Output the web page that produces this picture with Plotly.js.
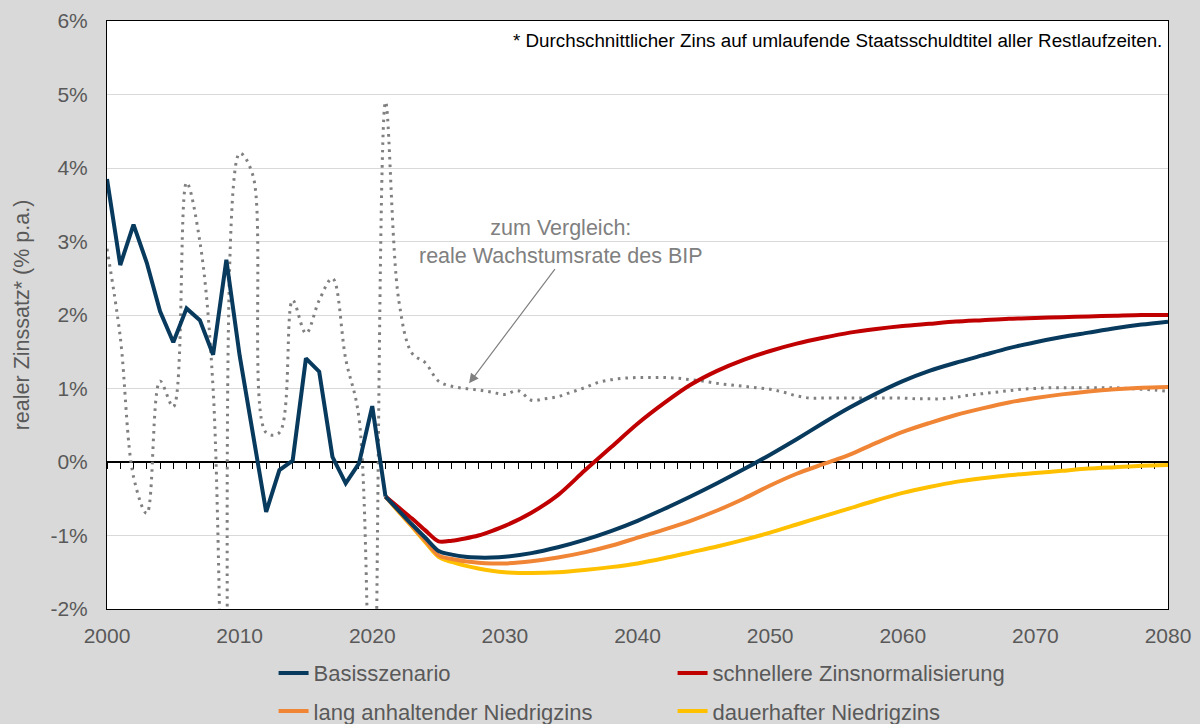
<!DOCTYPE html>
<html>
<head>
<meta charset="utf-8">
<script src="https://cdn.plot.ly/plotly-3.0.1.min.js"></script>
<style>html,body{margin:0;padding:0;background:#d9d9d9;}</style>
</head>
<body>
<div id="chart" style="width:1200px;height:724px;"></div>
<script>
// historical average real interest rate (%)
const histYears = [2000,2001,2002,2003,2004,2005,2006,2007,2008,2009,2010,2011,2012,2013,2014,2015,2016,2017,2018,2019,2020,2021];
const histRate  = [3.85,2.68,3.23,2.71,2.05,1.63,2.09,1.93,1.46,2.75,1.45,0.38,-0.68,-0.11,0.02,1.41,1.23,0.07,-0.29,-0.02,0.76,-0.47];

// projection scenarios (%)
const projYears = [2021,2022,2023,2024,2025,2026,2027,2028,2029,2030,2032,2034,2036,2038,2040,2042,2044,2046,2048,2050,2052,2054,2056,2058,2060,2062,2064,2066,2068,2070,2072,2074,2076,2078,2080];
const basis    = [-0.47,-0.66,-0.85,-1.03,-1.21,-1.26,-1.29,-1.30,-1.30,-1.29,-1.24,-1.16,-1.06,-0.94,-0.80,-0.64,-0.47,-0.29,-0.10,0.10,0.31,0.53,0.74,0.93,1.10,1.24,1.35,1.45,1.55,1.63,1.70,1.76,1.82,1.87,1.91];
const fast     = [-0.47,-0.62,-0.77,-0.93,-1.08,-1.07,-1.04,-1.00,-0.94,-0.87,-0.69,-0.45,-0.12,0.20,0.52,0.80,1.05,1.24,1.39,1.51,1.61,1.69,1.76,1.81,1.85,1.88,1.91,1.93,1.95,1.96,1.97,1.98,1.99,2.00,2.00];
const longLow  = [-0.47,-0.67,-0.87,-1.07,-1.27,-1.32,-1.35,-1.37,-1.38,-1.38,-1.35,-1.30,-1.23,-1.14,-1.03,-0.92,-0.80,-0.66,-0.50,-0.32,-0.16,-0.03,0.10,0.26,0.41,0.53,0.64,0.73,0.81,0.87,0.92,0.96,0.99,1.01,1.02];
const permLow  = [-0.47,-0.68,-0.88,-1.09,-1.29,-1.36,-1.41,-1.45,-1.48,-1.50,-1.51,-1.50,-1.47,-1.43,-1.38,-1.31,-1.23,-1.15,-1.06,-0.96,-0.85,-0.74,-0.63,-0.52,-0.42,-0.34,-0.27,-0.22,-0.18,-0.15,-0.12,-0.09,-0.07,-0.05,-0.04];

// real GDP growth (%)
const gdpYears = [2000,2001,2002,2003,2004,2005,2006,2007,2008,2009,2010,2011,2012,2013,2014,2015,2016,2017,2018,2019,
  2020,2021,2022,2023,2024,2025,2026,2027,2028,2029,2030,2031,2032,2033,2034,2035,2036,2037,2038,2039,
  2040,2041,2042,2043,2044,2045,2046,2047,2048,2049,2050,2051,2052,2053,2054,2055,2056,2057,2058,2059,
  2060,2061,2062,2063,2064,2065,2066,2067,2068,2069,2070,2071,2072,2073,2074,2075,2076,2077,2078,2079,2080];
const gdpGrowth = [2.9,1.7,-0.2,-0.7,1.1,0.75,3.8,3.0,1.0,-5.7,4.2,3.9,0.4,0.4,2.2,1.75,2.2,2.5,1.4,0.6,
  -4.9,4.9,2.2,1.48,1.35,1.1,1.03,1.0,0.98,0.95,0.92,0.97,0.84,0.86,0.89,0.95,1.01,1.08,1.12,1.14,
  1.15,1.15,1.15,1.14,1.12,1.10,1.07,1.05,1.03,1.01,0.99,0.95,0.90,0.87,0.87,0.87,0.87,0.87,0.87,0.87,
  0.87,0.86,0.86,0.86,0.88,0.91,0.93,0.95,0.97,0.99,1.0,1.01,1.01,1.01,1.01,1.01,1.01,1.0,0.99,0.98,0.96];

const yTickVals = [-2,-1,0,1,2,3,4,5,6];
const yTickText = ['-2%','-1%','0%','1%','2%','3%','4%','5%','6%'];
const xTickVals = [2000,2010,2020,2030,2040,2050,2060,2070,2080];
const xTickText = ['2000','2010','2020','2030','2040','2050','2060','2070','2080'];

const names = {
  basis: 'Basisszenario',
  fast: 'schnellere Zinsnormalisierung',
  longLow: 'lang anhaltender Niedrigzins',
  permLow: 'dauerhafter Niedrigzins'
};
const colors = {basis:'#083a5e', fast:'#c00000', longLow:'#f08536', permLow:'#ffc000', gdp:'#808080'};

const traces = [
  {x: gdpYears, y: gdpGrowth, mode:'lines', showlegend:false, hoverinfo:'skip',
   line:{color:colors.gdp, width:3, dash:'2.6px,5px', shape:'spline', smoothing:1}},
  {x: projYears, y: permLow, name: names.permLow, mode:'lines', legend:'legend2', legendrank:2,
   line:{color:colors.permLow, width:4, shape:'spline', smoothing:0.8}},
  {x: projYears, y: longLow, name: names.longLow, mode:'lines', legend:'legend2', legendrank:1,
   line:{color:colors.longLow, width:4, shape:'spline', smoothing:0.8}},
  {x: projYears, y: fast, name: names.fast, mode:'lines', legend:'legend', legendrank:2,
   line:{color:colors.fast, width:4, shape:'spline', smoothing:0.8}},
  {x: projYears, y: basis, name: names.basis, mode:'lines', legend:'legend', legendrank:1,
   line:{color:colors.basis, width:4, shape:'spline', smoothing:0.8}},
  {x: histYears, y: histRate, mode:'lines', showlegend:false, hoverinfo:'skip',
   line:{color:colors.basis, width:4}},
  // carrier for the year ticks on the zero line
  {x: [xTickVals[0]], y: [yTickVals[2]], xaxis:'x2', mode:'markers', marker:{opacity:0}, showlegend:false, hoverinfo:'skip'}
];

const fontFam = '"Liberation Sans", Arial, sans-serif';
const legendBase = {orientation:'h', xanchor:'left', yanchor:'middle', entrywidth:354, entrywidthmode:'pixels',
  bgcolor:'rgba(0,0,0,0)', font:{family:fontFam, size:22, color:'#595959'}, itemclick:false, itemdoubleclick:false};

const layout = {
  width:1200, height:724,
  paper_bgcolor:'#d9d9d9', plot_bgcolor:'#ffffff',
  margin:{l:107, r:32, t:21, b:115, autoexpand:false},
  font:{family:fontFam, color:'#595959'},
  showlegend:true,
  xaxis:{range:[2000,2080], tickvals:xTickVals, ticktext:xTickText, showgrid:false, zeroline:false,
    showline:true, mirror:true, linecolor:'#000000', linewidth:1, ticks:'',
    tickfont:{size:21, color:'#595959'}, ticklabelstandoff:8, fixedrange:true},
  xaxis2:{overlaying:'x', anchor:'free', position:0.25, range:[2000,2080], tick0:2000, dtick:1,
    ticks:'outside', ticklen:6, tickwidth:1, tickcolor:'#000000', showticklabels:false,
    showgrid:false, zeroline:false, showline:false, layer:'below traces', fixedrange:true},
  yaxis:{range:[-2,6], tickvals:yTickVals, ticktext:yTickText, showgrid:true, gridcolor:'#d9d9d9', gridwidth:1,
    zeroline:true, zerolinecolor:'#000000', zerolinewidth:1.5,
    showline:true, mirror:true, linecolor:'#000000', linewidth:1, ticks:'',
    tickfont:{size:21, color:'#595959'}, ticklabelstandoff:14, fixedrange:true,
    title:{text:'realer Zinssatz* (% p.a.)', font:{size:21.5, color:'#595959'}, standoff:14}},
  legend:Object.assign({}, legendBase, {x:0.157, y:-0.109}),
  legend2:Object.assign({}, legendBase, {x:0.157, y:-0.174}),
  annotations:[
    {xref:'paper', yref:'paper', x:1, y:0.967, xanchor:'right', yanchor:'middle', xshift:-4, showarrow:false,
     text:'* Durchschnittlicher Zins auf umlaufende Staatsschuldtitel aller Restlaufzeiten.',
     font:{family:fontFam, size:18.8, color:'#000000'}},
    {xref:'x', yref:'y', x:2034.2, y:2.99, xanchor:'center', yanchor:'middle', showarrow:false,
     text:'zum Vergleich:<br>reale Wachstumsrate des BIP',
     font:{family:fontFam, size:21.5, color:'#808080'}},
    {xref:'x', yref:'y', x:2027.3, y:1.07, axref:'x', ayref:'y', ax:2034.0, ay:2.68, text:' ',
     showarrow:true, arrowhead:2, arrowsize:1.6, arrowwidth:1.2, arrowcolor:'#808080'}
  ]
};

Plotly.newPlot('chart', traces, layout, {displayModeBar:false, responsive:false});
</script>
</body>
</html>
